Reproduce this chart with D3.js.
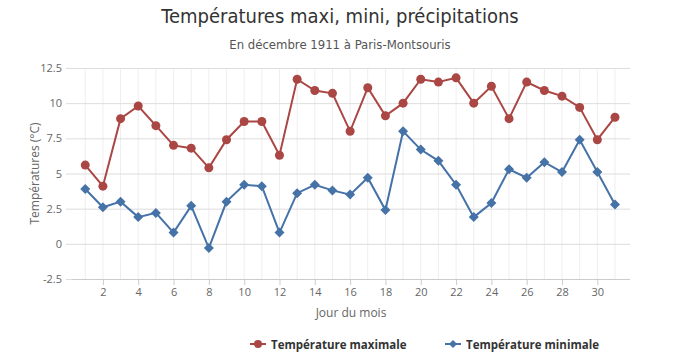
<!DOCTYPE html>
<html>
<head>
<meta charset="utf-8">
<script src="https://cdn.jsdelivr.net/npm/d3@7"></script>
<style>
  body { margin: 0; background: #fff; }
  text { font-family: "Open Sans", sans-serif; }
</style>
</head>
<body>
<svg id="chart"></svg>
<script>
const days = d3.range(1, 32);
const tempMax = [5.6, 4.1, 8.9, 9.8, 8.4, 7.0, 6.8, 5.4, 7.4, 8.7, 8.7, 6.3, 11.7, 10.9, 10.7, 8.0,
  11.1, 9.1, 10.0, 11.7, 11.5, 11.8, 10.0, 11.2, 8.9, 11.5, 10.9, 10.5, 9.7, 7.4, 9.0];
const tempMin = [3.9, 2.6, 3.0, 1.9, 2.2, 0.8, 2.7, -0.3, 3.0, 4.2, 4.1, 0.8, 3.6, 4.2, 3.8, 3.5,
  4.7, 2.4, 8.0, 6.7, 5.9, 4.2, 1.9, 2.9, 5.3, 4.7, 5.8, 5.1, 7.4, 5.1, 2.8];
const yTicks = [-2.5, 0, 2.5, 5, 7.5, 10, 12.5];
const xTicks = d3.range(2, 31, 2);
const seriesNames = ["Température maximale", "Température minimale"];

let width = 680;
let height = 358;
let plotLeft = 72, plotRight = 630, plotTop = 68, plotBottom = 279;
let red = "#aa4643";
let blue = "#4572a7";

const svg = d3.select("#chart")
  .attr("width", width)
  .attr("height", height);

const xScale = d3.scaleLinear().domain([0.25, 31.85]).range([plotLeft, plotRight]);
const yScale = d3.scaleLinear().domain([-2.5, 12.5]).range([plotBottom, plotTop]);

// grid lines
svg.append("g")
  .selectAll("line")
  .data(days)
  .enter()
  .append("line")
  .attr("x1", (d) => xScale(d)).attr("x2", (d) => xScale(d))
  .attr("y1", plotTop).attr("y2", plotBottom)
  .attr("stroke", "#eeeeee")
  .attr("stroke-width", 1);

const yAxis = d3.axisLeft(yScale)
  .tickValues(yTicks)
  .tickSize(plotRight - plotLeft + 6)
  .tickPadding(4)
  .tickFormat((d) => String(d));

svg.append("g")
  .attr("transform", `translate(${plotRight}, 0)`)
  .call(yAxis)
  .call((g) => g.select(".domain").remove())
  .call((g) => g.selectAll("line").attr("stroke", "#dddddd"))
  .call((g) => g.selectAll("text").attr("fill", "#666").style("font-size", "11px"));

const xAxis = d3.axisBottom(xScale)
  .tickValues(xTicks)
  .tickSize(6)
  .tickPadding(3)
  .tickFormat((d) => String(d));

svg.append("g")
  .attr("transform", `translate(0, ${plotBottom})`)
  .call(xAxis)
  .call((g) => g.select(".domain").attr("stroke", "#cccccc").attr("d", `M${plotLeft},0.5H${plotRight}`))
  .call((g) => g.selectAll("line").attr("stroke", "#cccccc"))
  .call((g) => g.selectAll("text").attr("fill", "#666").style("font-size", "11px"));

// lines
const line = d3.line()
  .x((d, i) => xScale(days[i]))
  .y((d) => yScale(d));

svg.append("path")
  .datum(tempMax)
  .attr("d", line)
  .attr("fill", "none")
  .attr("stroke", red)
  .attr("stroke-width", 2);

svg.append("path")
  .datum(tempMin)
  .attr("d", line)
  .attr("fill", "none")
  .attr("stroke", blue)
  .attr("stroke-width", 2);

svg.append("g")
  .selectAll("circle")
  .data(tempMax)
  .enter()
  .append("circle")
  .attr("cx", (d, i) => xScale(days[i]))
  .attr("cy", (d) => yScale(d))
  .attr("r", 4.5)
  .attr("fill", red);

const diamond = "M0,-5L5,0L0,5L-5,0Z";
svg.append("g")
  .selectAll("path")
  .data(tempMin)
  .enter()
  .append("path")
  .attr("d", diamond)
  .attr("transform", (d, i) => `translate(${xScale(days[i])}, ${yScale(d)})`)
  .attr("fill", blue);

// titles
svg.append("text")
  .attr("x", 340).attr("y", 23)
  .attr("text-anchor", "middle")
  .style("font-family", "'Liberation Sans Narrow', 'DejaVu Sans Condensed', sans-serif")
  .style("font-size", "20px")
  .attr("fill", "#333")
  .text("Températures maxi, mini, précipitations");

svg.append("text")
  .attr("x", 340).attr("y", 49)
  .attr("text-anchor", "middle")
  .style("font-family", "'Liberation Sans Narrow', 'DejaVu Sans Condensed', sans-serif")
  .style("font-size", "13px")
  .attr("fill", "#555")
  .text("En décembre 1911 à Paris-Montsouris");

svg.append("text")
  .attr("transform", `translate(39, ${(plotTop + plotBottom) / 2}) rotate(-90)`)
  .attr("text-anchor", "middle")
  .style("font-size", "12px")
  .attr("fill", "#666")
  .text("Températures (°C)");

svg.append("text")
  .attr("x", (plotLeft + plotRight) / 2).attr("y", 317)
  .attr("text-anchor", "middle")
  .style("font-size", "12px")
  .attr("fill", "#666")
  .text("Jour du mois");

// legend
const legendX = [250, 445];
const legendColors = [red, blue];
const legend = svg.append("g")
  .selectAll("g")
  .data(seriesNames)
  .enter()
  .append("g")
  .attr("transform", (d, i) => `translate(${legendX[i]}, 344)`);

legend.append("line")
  .attr("x1", 0).attr("x2", 16)
  .attr("stroke", (d, i) => legendColors[i])
  .attr("stroke-width", 2);

legend.filter((d, i) => i === 0).append("circle")
  .attr("cx", 8).attr("r", 4).attr("fill", red);
legend.filter((d, i) => i === 1).append("path")
  .attr("d", "M8,-4L12,0L8,4L4,0Z").attr("fill", blue);

legend.append("text")
  .attr("x", 21).attr("y", 4.5)
  .style("font-size", "11.5px")
  .style("font-weight", "bold")
  .attr("fill", "#333")
  .text((d) => d);
</script>
</body>
</html>
